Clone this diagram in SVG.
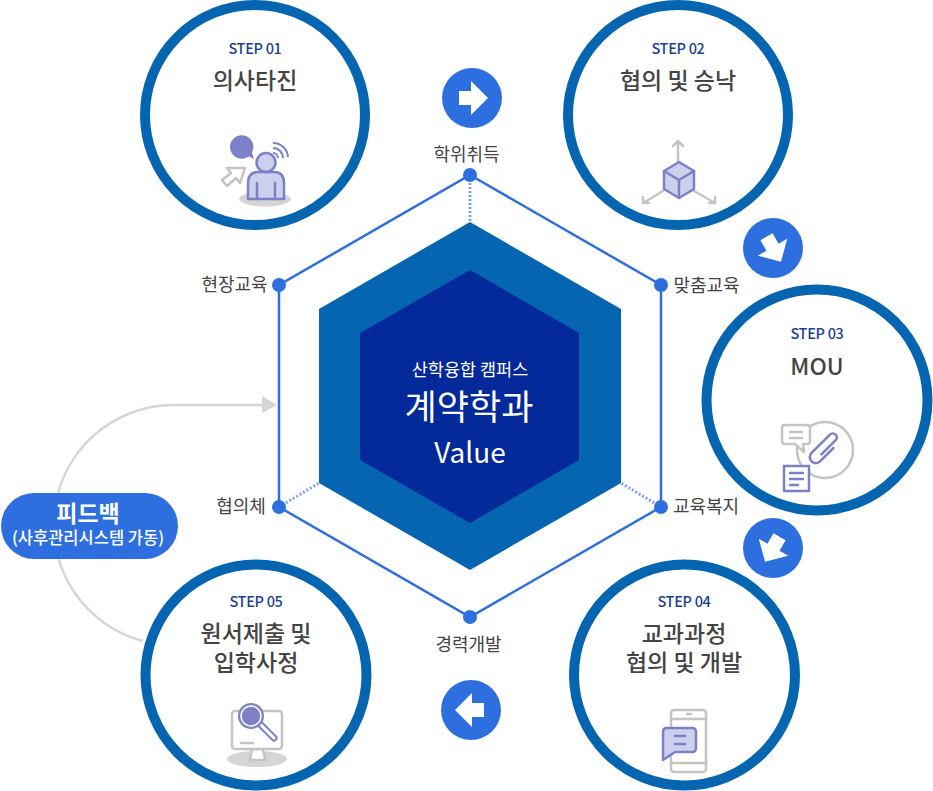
<svg xmlns="http://www.w3.org/2000/svg" width="933" height="791" viewBox="0 0 933 791">
<style>
text{font-family:"Noto Sans CJK KR","Noto Sans",sans-serif;text-anchor:middle}
.ring{fill:#fff;stroke:#0565b1;stroke-width:10}
.step{font-size:14.5px;font-weight:500;fill:#1c3f94;letter-spacing:-.3px}
.title{font-size:23px;font-weight:500;fill:#444}
.lab{font-size:18px;fill:#444}
.hl{fill:none;stroke:#2e6fe0;stroke-width:2.5}
.dot{fill:#2e6fe0}
.sp{fill:none;stroke:#7ba4ec;stroke-width:3;stroke-dasharray:2 2}
.btn{fill:#2e6fe0}
.ar{fill:#fff}
.g{fill:none;stroke:#c4c4c4;stroke-width:2.5;stroke-linejoin:round;stroke-linecap:round}
.p{fill:none;stroke:#7c80c8;stroke-width:2.5;stroke-linejoin:round;stroke-linecap:round}
.pf{fill:#cdd0ec;stroke:#7c80c8;stroke-width:2.5;stroke-linejoin:round}
.sh{fill:#d5d5d5}
</style>
<g id="connectors">
<path d="M143 641A120 120 0 0 1 172 405H264" fill="none" stroke="#d6d6d6" stroke-width="2.5"/>
<path d="M262 396L277 405L262 413Z" fill="#d6d6d6"/>
<path class="sp" d="M470 175V222M661 507L621 483M279 507L319 483"/>
<path class="hl" d="M470 175L661 285V507L470 617L279 507V285Z"/>
</g>
<g id="hexagon">
<path d="M470 222L621 309V483L470 570L319 483V309Z" fill="#0565b1"/>
<path d="M470 270L579 333V460L470 523L360 460V333Z" fill="#04299b"/>
<text x="470" y="376" font-size="17.5" fill="#fff">산학융합 캠퍼스</text>
<text x="469" y="420" font-size="35" fill="#fff">계약학과</text>
<text x="470" y="463" font-size="28" fill="#fff">Value</text>
</g>
<g id="vertices">
<circle class="dot" cx="470" cy="175" r="7"/><circle class="dot" cx="661" cy="285" r="7"/><circle class="dot" cx="661" cy="507" r="7"/>
<circle class="dot" cx="470" cy="617" r="7"/><circle class="dot" cx="279" cy="507" r="7"/><circle class="dot" cx="279" cy="285" r="7"/>
<text class="lab" x="466.5" y="161">학위취득</text>
<text class="lab" x="706.5" y="292">맞춤교육</text>
<text class="lab" x="706" y="513">교육복지</text>
<text class="lab" x="468.5" y="651">경력개발</text>
<text class="lab" x="241" y="513">협의체</text>
<text class="lab" x="234.5" y="291">현장교육</text>
</g>
<g id="step1">
<circle class="ring" cx="255" cy="115" r="110"/>
<text class="step" x="255" y="54">STEP 01</text>
<text class="title" x="255" y="89">의사타진</text>
<ellipse class="sh" cx="265" cy="199" rx="26" ry="7.5"/>
<path class="g" d="M245 168L240 183L236 178L227 186L222 180L231 173L227 168Z"/>
<circle cx="241.7" cy="147" r="11.7" fill="#7c80c8"/>
<path d="M246 155L254 159L251 150Z" fill="#7c80c8"/>
<path d="M273 143a15 15 0 0 1 15 14M273 148a10 10 0 0 1 10 10M273 153a5 5 0 0 1 5 5" fill="none" stroke="#7c80c8" stroke-width="2"/>
<path class="pf" d="M248 199V183q0-11 10-11h16q10 0 10 11v16z"/>
<path class="p" d="M257 183v16M275 183v16"/>
<circle class="pf" cx="266" cy="162.500" r="9.500"/>
</g>
<g id="step2">
<circle class="ring" cx="678" cy="115" r="110"/>
<text class="step" x="678" y="54">STEP 02</text>
<text class="title" x="678" y="89">협의 및 승낙</text>
<path class="g" d="M678 164V141M673 146L678 141L683 146M663 191L643 203M643 197V203H649M694 191L715 203M715 197V203H709"/>
<path class="pf" d="M679 162L694 171V189L679 198L664 189V171Z"/>
<path class="p" d="M664 171L679 180L694 171M679 180V198"/>
</g>
<g id="step3">
<circle class="ring" cx="817" cy="400" r="110.500"/>
<text class="step" x="817" y="339">STEP 03</text>
<text class="title" x="817" y="375">MOU</text>
<circle cx="825" cy="450" r="28" fill="none" stroke="#c4c4c4" stroke-width="2.5"/>
<path d="M785 425H807q3 0 3 3V441q0 3-3 3H803L804 452L795 444H785q-3 0-3-3V428q0-3 3-3z" fill="#fff" stroke="#c4c4c4" stroke-width="2.5" stroke-linejoin="round"/>
<path class="g" d="M790 432H802M790 438H802"/>
<path class="p" transform="translate(825,448) rotate(45)" d="M6 -6V13a6 6 0 0 1-12 0V-13a4 4 0 0 1 8 0V7" stroke-width="2.200"/>
<rect x="784" y="466" width="25" height="25" fill="#fff" stroke="#7c80c8" stroke-width="2.500"/>
<path class="p" d="M790 473H803M790 479H803M790 485H798"/>
</g>
<g id="step4">
<circle class="ring" cx="684.500" cy="675" r="110.500"/>
<text class="step" x="684" y="607">STEP 04</text>
<text class="title" x="684" y="642">교과과정<tspan x="684" dy="29">협의 및 개발</tspan></text>
<rect x="671" y="710" width="35" height="62" rx="3" class="g"/>
<path class="g" d="M671 719H706M671 763H706M687 714H691"/>
<path class="pf" d="M667 728H692q4 0 4 4V748q0 4-4 4H675L663 760V732q0-4 4-4z"/>
<path class="p" d="M675 736H685M675 744H685"/>
</g>
<g id="step5">
<circle class="ring" cx="256" cy="675" r="110.500"/>
<text class="step" x="256" y="607">STEP 05</text>
<text class="title" x="256" y="642">원서제출 및<tspan x="256" dy="29">입학사정</tspan></text>
<ellipse class="sh" cx="257" cy="759" rx="30" ry="8"/>
<path d="M252 749H263L265 760H250Z" fill="#fff" stroke="#c4c4c4" stroke-width="2.500"/>
<rect x="232" y="711" width="50" height="38" rx="3" fill="#fff" stroke="#c4c4c4" stroke-width="2.500"/>
<path class="g" d="M241 743H253"/>
<path d="M260 724L274 738" stroke="#7c80c8" stroke-width="7" stroke-linecap="round"/>
<path d="M260 724L274 738" stroke="#fff" stroke-width="3" stroke-linecap="round"/>
<circle cx="251" cy="716" r="12" fill="#7c80c8" stroke="#7c80c8" stroke-width="2"/>
<circle cx="251" cy="716" r="10" fill="none" stroke="#fff" stroke-width="1.500"/>
</g>
<g id="arrow1"><circle class="btn" cx="472" cy="98" r="30"/><path class="ar" d="M459 91H471V81L488 98L471 115V105H459Z"/></g>
<g id="arrow2"><circle class="btn" cx="773" cy="248" r="30"/><path class="ar" transform="rotate(60 773 248)" d="M760 241H772V231L789 248L772 265V255H760Z"/></g>
<g id="arrow3"><circle class="btn" cx="773" cy="548" r="30"/><path class="ar" transform="rotate(120 773 548)" d="M760 541H772V531L789 548L772 565V555H760Z"/></g>
<g id="arrow4"><circle class="btn" cx="471" cy="710" r="30"/><path class="ar" transform="rotate(180 471 710)" d="M458 703H470V693L487 710L470 727V717H458Z"/></g>
<g id="feedback">
<rect class="btn" x="1" y="493" width="177" height="66" rx="33"/>
<text x="88" y="522" font-size="23" font-weight="700" fill="#fff">피드백</text>
<text x="88" y="544" font-size="16.500" font-weight="500" fill="#fff">(사후관리시스템 가동)</text>
</g>
</svg>
